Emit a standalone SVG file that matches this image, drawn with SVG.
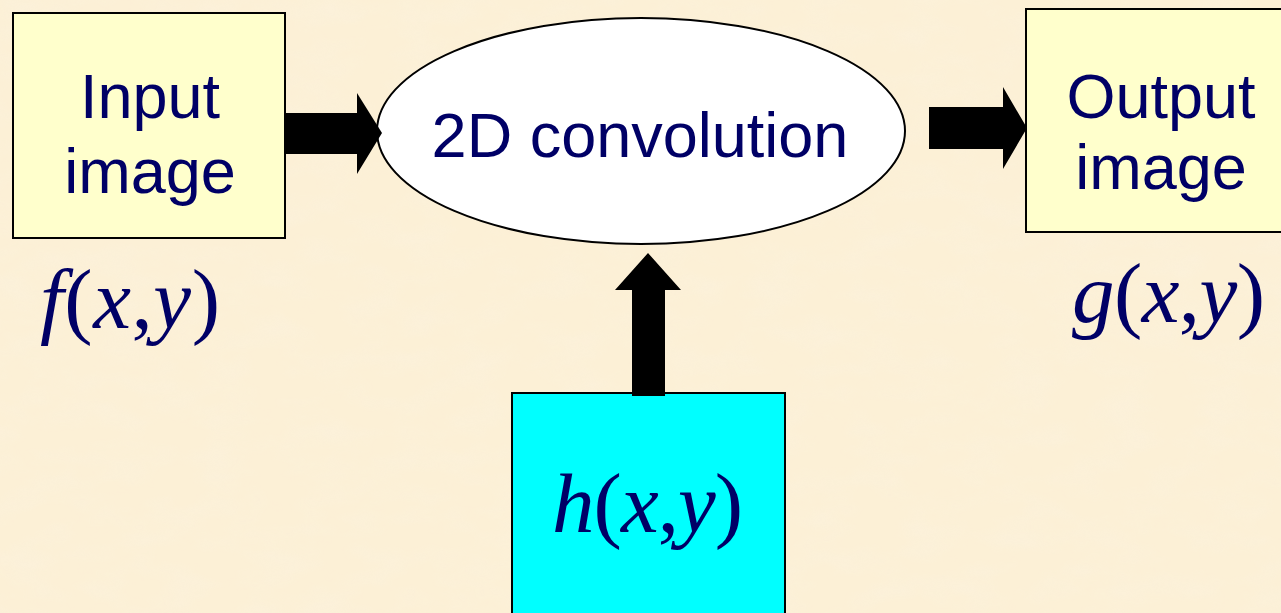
<svg xmlns="http://www.w3.org/2000/svg" width="1281" height="613" viewBox="0 0 1281 613">
<style>
.box{fill:#FFFFCC;stroke:#000;stroke-width:2}
.cyan{fill:#00FFFF;stroke:#000;stroke-width:2}
.ell{fill:#fff;stroke:#000;stroke-width:2}
.lbl{font-family:"Liberation Sans",Arial,sans-serif;font-size:63px;fill:#000066;text-anchor:middle}
.math{font-family:"Liberation Serif","Times New Roman",serif;font-size:85px;fill:#000066}
.it{font-style:italic}
.arrow{fill:#000}
</style>
<defs>
<filter id="tex" x="0" y="0" width="100%" height="100%">
<feTurbulence type="fractalNoise" baseFrequency="0.02 0.04" numOctaves="3" seed="4"/>
<feColorMatrix type="matrix" values="0 0 0 0 0.96  0 0 0 0 0.89  0 0 0 0 0.76  0 0 0 -1.4 0.85"/>
</filter>
</defs>
<rect width="1281" height="613" fill="#FCF0D6"/>
<rect width="1281" height="613" filter="url(#tex)" opacity="0.45"/>
<g id="input">
<rect class="box" x="13" y="13" width="272" height="225"/>
<text class="lbl" x="150" y="118">Input</text>
<text class="lbl" x="150" y="193">image</text>
</g>
<g id="conv">
<ellipse class="ell" cx="641" cy="131" rx="264" ry="113"/>
<text class="lbl" x="640" y="157">2D convolution</text>
</g>
<g id="output">
<rect class="box" x="1026" y="9" width="272" height="223"/>
<text class="lbl" x="1161" y="118">Output</text>
<text class="lbl" x="1161" y="189">image</text>
</g>
<g id="kernel">
<rect class="cyan" x="512" y="393" width="273" height="230"/>
<text class="math" x="552" y="532" textLength="191" lengthAdjust="spacing"><tspan class="it">h</tspan>(<tspan class="it">x</tspan>,<tspan class="it">y</tspan>)</text>
</g>
<g id="f-label">
<text class="math" x="40" y="328" textLength="180" lengthAdjust="spacing"><tspan class="it">f</tspan>(<tspan class="it">x</tspan>,<tspan class="it">y</tspan>)</text>
</g>
<g id="g-label">
<text class="math" x="1072" y="322" textLength="193" lengthAdjust="spacing"><tspan class="it">g</tspan>(<tspan class="it">x</tspan>,<tspan class="it">y</tspan>)</text>
</g>
<g id="connectors">
<polygon class="arrow" points="285,113 357,113 357,93 382,133 357,174 357,154 285,154"/>
<polygon class="arrow" points="929,107 1003,107 1003,87 1027,128 1003,169 1003,149 929,149"/>
<polygon class="arrow" points="632,396 632,290 615,290 648,253 681,290 665,290 665,396"/>
</g>
</svg>
